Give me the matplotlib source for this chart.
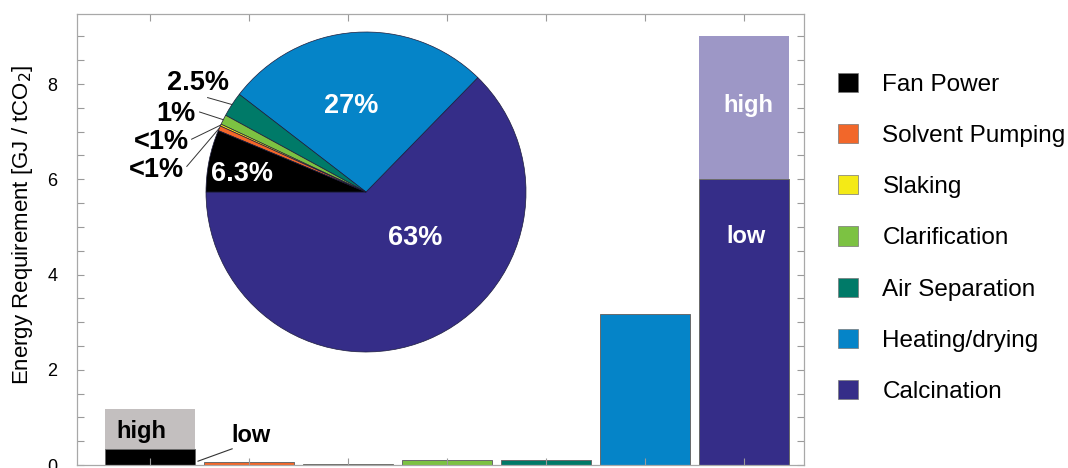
import numpy as np
import matplotlib
matplotlib.use("Agg")
import matplotlib.pyplot as plt
from matplotlib.patches import Patch

plt.rcParams["font.family"] = ["Liberation Sans", "DejaVu Sans"]

# ---------------------------------------------------------------- data
categories = ["Fan Power", "Solvent Pumping", "Slaking", "Clarification",
              "Air Separation", "Heating/drying", "Calcination"]
colors = ["#000000", "#F2672A", "#F4EA16", "#7CC242",
          "#007A68", "#0584C8", "#352D88"]
low_values = [0.34, 0.07, 0.03, 0.10, 0.10, 3.18, 6.0]
high_values = [1.17, 0.07, 0.03, 0.10, 0.10, 3.18, 9.0]
high_colors = ["#C3BFBF", None, None, None, None, None, "#9D97C6"]

pie_share = [6.3, 0.5, 0.2, 1.0, 2.5, 27.0, 63.0]
pie_labels = ["6.3%", "<1%", "<1%", "1%", "2.5%", "27%", "63%"]

# ---------------------------------------------------------------- figure
W, H = 1068, 468
fig = plt.figure(figsize=(W / 100, H / 100), dpi=100)
ax = fig.add_axes([77 / W, 3 / H, (804 - 77) / W, (465 - 14) / H])

xs = np.arange(len(categories))
low = np.array(low_values)
high = np.array(high_values)
ax.bar(xs, low, width=0.91, color=colors, edgecolor="#6a6a6a", linewidth=0.7, zorder=1)
extra = high - low
for i in range(len(xs)):
    if extra[i] > 0:
        ax.bar(xs[i], extra[i], bottom=low[i], width=0.91, color=high_colors[i],
               edgecolor="none", zorder=1)

ax.set_xlim(-0.737, 6.606)
ax.set_ylim(0, 9.47)
ax.set_yticks([0, 2, 4, 6, 8])
ax.set_yticks(np.arange(0, 9.5, 0.5), minor=True)
ax.set_xticks(xs)
ax.set_xticklabels([])
ax.tick_params(axis="both", which="both", direction="in", length=5, width=0.8,
               color="#9a9a9a", labelsize=13, top=True, right=True, pad=14)
ax.tick_params(axis="x", which="minor", bottom=False, top=False)
for s in ax.spines.values():
    s.set_color("#a8a8a8")
    s.set_linewidth(0.9)
ax.set_ylabel("Energy Requirement [GJ / tCO$_2$]", fontsize=16)
ax.yaxis.set_label_coords(-0.058, 0.532)

# low / high annotations
ax.text(-0.09, 0.71, "high", fontsize=17, fontweight="bold", ha="center", va="center")
ax.text(1.02, 0.61, "low", fontsize=17, fontweight="bold", ha="center", va="center")
ax.plot([0.485, 0.83], [0.08, 0.34], color="#333333", lw=0.8)
ax.text(6.04, 7.54, "high", fontsize=17, fontweight="bold", color="white",
        ha="center", va="center")
ax.text(6.02, 4.79, "low", fontsize=17, fontweight="bold", color="white",
        ha="center", va="center")

# ---------------------------------------------------------------- pie inset
cx, cy, r = 366, 192, 160
pax = fig.add_axes([(cx - r) / W, (H - cy - r) / H, 2 * r / W, 2 * r / H])
order = [6, 5, 4, 3, 2, 1, 0]  # counter-clockwise from the left horizontal
wedges, _ = pax.pie([pie_share[i] for i in order], colors=[colors[i] for i in order],
                    startangle=180, counterclock=True,
                    wedgeprops=dict(edgecolor="#1c1c3c", linewidth=0.5))
pax.set_xlim(-1, 1)
pax.set_ylim(-1, 1)
pax.set_aspect("equal")
pax.axis("off")

# labels inside the big wedges
inside = {6: (0.31, -0.29), 5: (-0.09, 0.54), 0: (-0.775, 0.11)}
for i, (tx, ty) in inside.items():
    pax.text(tx, ty, pie_labels[i], color="white", fontsize=19.5, fontweight="bold",
             ha="center", va="center")

# labels outside for small wedges with leader lines
outside = {4: ((-1.05, 0.68), (-0.99, 0.59)),
           3: ((-1.19, 0.49), (-1.04, 0.50)),
           2: ((-1.28, 0.31), (-1.09, 0.33)),
           1: ((-1.31, 0.14), (-1.12, 0.16))}
for i, ((tx, ty), (lx, ly)) in outside.items():
    w = wedges[order.index(i)]
    ang = np.deg2rad((w.theta1 + w.theta2) / 2)
    pax.plot([lx, np.cos(ang)], [ly, np.sin(ang)], color="#333333", lw=0.7, clip_on=False)
    pax.text(tx, ty, pie_labels[i], fontsize=19.5, fontweight="bold",
             ha="center", va="center", clip_on=False)

# ---------------------------------------------------------------- legend
handles = [Patch(facecolor=c, edgecolor="#777777", linewidth=0.5) for c in colors]
fig.legend(handles, categories, loc="upper left",
           bbox_to_anchor=(838 / W, 1 - 73 / H), bbox_transform=fig.transFigure,
           frameon=False, fontsize=17.5, handlelength=0.83, handleheight=0.83,
           handletextpad=1.0, labelspacing=1.16, borderpad=0, borderaxespad=0)

fig.savefig("out.png", dpi=100)
